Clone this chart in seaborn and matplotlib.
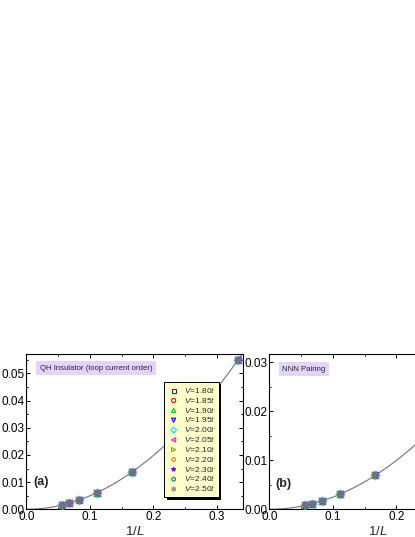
import numpy as np
import matplotlib
matplotlib.use("Agg")
import matplotlib.pyplot as plt
import matplotlib.patheffects as pe
import seaborn as sns

# ---- data ----
L_a = [3, 6, 9, 12, 15, 18]
y_a = [0.0549, 0.0138, 0.0061, 0.0034, 0.0023, 0.00166]
L_b = [6, 9, 12, 15, 18]
y_b = [0.0069, 0.0031, 0.0017, 0.00114, 0.00088]
V_vals = ["1.80", "1.85", "1.90", "1.95", "2.00", "2.05", "2.10", "2.20", "2.30", "2.40", "2.50"]
colors = ["#333333", "#ff0000", "#00cc00", "#0000ff", "#00e5ee", "#ff00ff",
          "#999900", "#ff8000", "#8000ff", "#008080", "#999999"]
markers = ["s", "o", "^", "v", "D", "<", ">", "h", "*", "p", (6, 2, 0)]
xticks = [0.0, 0.1, 0.2, 0.3]
yticks_a = [0.00, 0.01, 0.02, 0.03, 0.04, 0.05]
yticks_b = [0.00, 0.01, 0.02, 0.03]

sns.set_style("ticks")
plt.rcParams["font.family"] = ["Liberation Sans", "DejaVu Sans"]
plt.rcParams["mathtext.fontset"] = "custom"
plt.rcParams["mathtext.rm"] = "Liberation Sans"
plt.rcParams["mathtext.it"] = "Liberation Sans:italic"
plt.rcParams["mathtext.bf"] = "Liberation Sans:bold"

fig = plt.figure(figsize=(4.15, 5.37), dpi=100)
ax1 = fig.add_axes([0.0634, 0.0516, 0.5229, 0.2886])
ax2 = fig.add_axes([0.6492, 0.0516, 0.5229, 0.2886])

def panel(ax, L, y, ylim, yticks, title, tag, tx, ty, tagx, tagy, legend=False):
    x = 1.0 / np.array(L, dtype=float)
    yv = np.array(y)
    c = np.sum(yv * x**2) / np.sum(x**4)
    xf = np.linspace(0, 0.345, 200)
    sns.lineplot(x=xf, y=c * xf**2, ax=ax, color="#6e7385", lw=0.8, zorder=1)
    for v, col, m in zip(V_vals, colors, markers):
        sns.scatterplot(x=x, y=yv, ax=ax, marker=m, s=24, color=col,
                        edgecolor=col, linewidth=0.8, alpha=0.4, zorder=3,
                        label=f"$V$={v}$t$")
    ax.set_xlim(0, 0.3417)
    ax.set_ylim(*ylim)
    ax.set_xticks(xticks)
    ax.set_xticklabels([f"{t:.1f}" for t in xticks])
    ax.set_yticks(yticks)
    ax.set_yticklabels([f"{t:.2f}" for t in yticks])
    ax.xaxis.set_minor_locator(matplotlib.ticker.MultipleLocator(0.05))
    ax.yaxis.set_minor_locator(matplotlib.ticker.MultipleLocator(0.005))
    ax.tick_params(which="both", direction="in", top=True, right=True,
                   labelsize=8.5, width=0.7, colors="black")
    ax.tick_params(which="major", length=3, pad=1.2)
    ax.tick_params(which="minor", length=1.6)
    for sp in ax.spines.values():
        sp.set_visible(True)
        sp.set_linewidth(0.8)
        sp.set_color("black")
    ax.set_xlabel("1/$L$", fontsize=9.5, labelpad=1.5)
    ax.set_ylabel("")
    ax.text(tx, ty, title, transform=ax.transAxes, fontsize=5.6, va="center",
            ha="left", bbox=dict(boxstyle="square,pad=0.45", fc="#e4d4fb", ec="none"))
    ax.text(tagx, tagy, tag, transform=ax.transAxes, fontsize=9, fontweight="bold",
            va="center", ha="left")
    if legend:
        leg = ax.legend(loc="upper right", bbox_to_anchor=(0.889, 0.823),
                        borderaxespad=0, fontsize=6, frameon=True, fancybox=False,
                        facecolor="#ffffcc", edgecolor="black", framealpha=1,
                        handlelength=1.2, handletextpad=0.6, labelspacing=0.1,
                        borderpad=0.5, markerscale=0.6)
        frame = leg.get_frame()
        frame.set_linewidth(0.7)
        frame.set_path_effects([pe.SimplePatchShadow(offset=(1.6, -1.6),
                                                     shadow_rgbFace="black", alpha=1.0),
                                pe.Normal()])
        for h, col in zip(leg.legend_handles, colors):
            h.set_alpha(1)
            h.set_facecolor("none")
            h.set_edgecolor(col)
    else:
        lg = ax.get_legend()
        if lg:
            lg.remove()

panel(ax1, L_a, y_a, (0, 0.057), yticks_a, "QH Insulator (loop current order)", "(a)",
      0.063, 0.911, 0.031, 0.175, legend=True)
panel(ax2, L_b, y_b, (0, 0.0316), yticks_b, "NNN Pairing", "(b)",
      0.059, 0.905, 0.026, 0.163, legend=False)

fig.savefig("out.png", dpi=100)
